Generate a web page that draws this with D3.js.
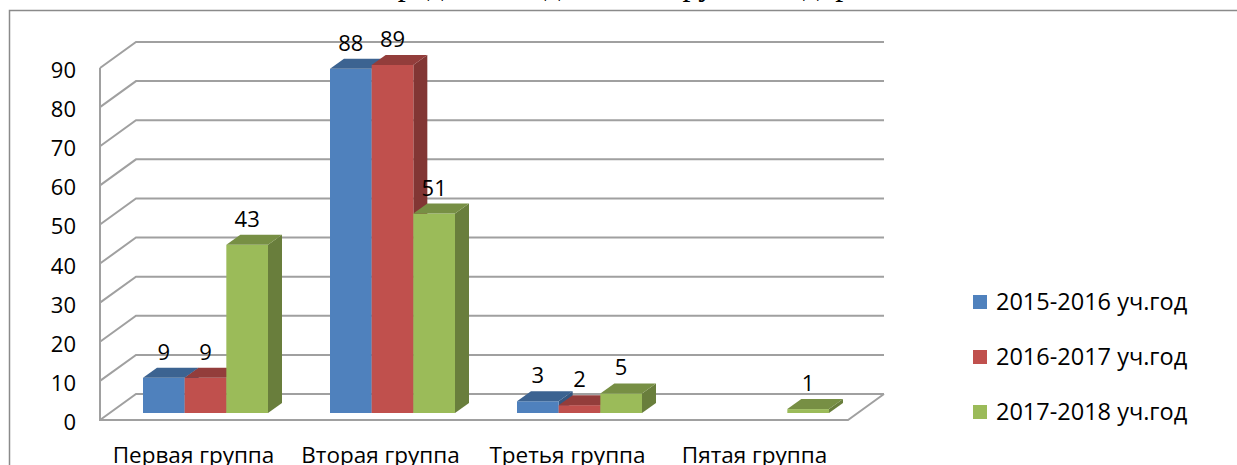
<!DOCTYPE html>
<html>
<head>
<meta charset="utf-8">
<script src="https://cdn.jsdelivr.net/npm/d3@7"></script>
<style>
  body { margin: 0; background: #fff; }
  text { font-family: "Open Sans", sans-serif; fill: #000; }
</style>
</head>
<body>
<div id="chart"></div>
<script>
// data
const categories = ["Первая группа", "Вторая группа", "Третья группа", "Пятая группа"];
const seriesNames = ["2015-2016 уч.год", "2016-2017 уч.год", "2017-2018 уч.год"];
const values2015 = [9, 88, 3, null];
const values2016 = [9, 89, 2, null];
const values2017 = [43, 51, 5, 1];
const yTicks = [0, 10, 20, 30, 40, 50, 60, 70, 80, 90];
const titleText = "Распределение детей по группам здоровья";

const colors = ["#4F81BD", "#C0504D", "#9BBB59"];

const width = 1237, height = 465;
// 3d offsets
const depth = { dx: 36, dy: -26 };
const barFront = { dx: 12, dy: -7 };
const barDepth = { dx: 14, dy: -10 };

const svg = d3.select("#chart")
  .append("svg")
  .attr("width", width)
  .attr("height", height);

// title (cut off at the top, only descenders show)
svg.append("text")
  .attr("x", 623)
  .attr("y", -5)
  .attr("text-anchor", "middle")
  .style("font-family", "'Liberation Serif', serif")
  .style("font-size", "32px")
  .text(titleText);

// chart border
svg.append("rect")
  .attr("x", 9.5).attr("y", 10.5)
  .attr("width", width + 20).attr("height", height + 20)
  .attr("fill", "none")
  .attr("stroke", "#8a8a8a")
  .attr("stroke-width", 1.5);

const x0 = d3.scaleBand()
  .domain(categories)
  .range([100, 848]);

const x1 = d3.scaleBand()
  .domain(seriesNames)
  .range([0, x0.bandwidth()])
  .paddingOuter(0.744);

const y = d3.scaleLinear()
  .domain([0, 90])
  .range([420, 68]);

// walls and grid
const grid = svg.append("g")
  .attr("fill", "none")
  .attr("stroke", "#a0a0a0")
  .attr("stroke-width", 2);

grid.selectAll("path.gl")
  .data(yTicks)
  .enter()
  .append("path")
  .attr("class", "gl")
  .attr("d", d => {
    const yy = y(d);
    return `M${x0.range()[0]},${yy} L${x0.range()[0] + depth.dx},${yy + depth.dy} L${x0.range()[1] + depth.dx},${yy + depth.dy}`;
  });

grid.append("path")
  .attr("d", `M${x0.range()[0]},${y(90)} L${x0.range()[0]},${y(0)} L${x0.range()[1]},${y(0)} L${x0.range()[1] + depth.dx},${y(0) + depth.dy}`);

// y axis labels
svg.append("g")
  .selectAll("text")
  .data(yTicks)
  .enter()
  .append("text")
  .attr("x", 76)
  .attr("y", d => y(d) + 10)
  .attr("text-anchor", "end")
  .style("font-size", "22px")
  .text(d => d);

// category labels
svg.append("g")
  .selectAll("text")
  .data(categories)
  .enter()
  .append("text")
  .attr("x", d => x0(d) + x0.bandwidth() / 2)
  .attr("y", 463)
  .attr("text-anchor", "middle")
  .style("font-size", "22.5px")
  .text(d => d);

// bars
const allValues = [values2015, values2016, values2017];
const bars = [];
categories.forEach((c, i) => {
  seriesNames.forEach((s, j) => {
    const v = allValues[j][i];
    if (v === null) return;
    bars.push({ cat: c, series: s, idx: j, value: v });
  });
});

const bw = x1.bandwidth();
const barG = svg.append("g")
  .selectAll("g")
  .data(bars)
  .enter()
  .append("g");

const fx = d => x0(d.cat) + x1(d.series) + barFront.dx;
const fTop = d => y(d.value) + barFront.dy;
const fBottom = () => y(0) + barFront.dy;

// side
barG.append("path")
  .attr("fill", d => d3.color(colors[d.idx]).darker(1.1))
  .attr("d", d => {
    const xr = fx(d) + bw;
    return `M${xr},${fTop(d)} L${xr + barDepth.dx},${fTop(d) + barDepth.dy} L${xr + barDepth.dx},${fBottom() + barDepth.dy} L${xr},${fBottom()} Z`;
  });

// front
barG.append("rect")
  .attr("x", d => fx(d))
  .attr("y", d => fTop(d))
  .attr("width", bw)
  .attr("height", d => fBottom() - fTop(d))
  .attr("fill", d => colors[d.idx]);

// top
barG.append("path")
  .attr("fill", d => d3.color(colors[d.idx]).darker(0.75))
  .attr("d", d => {
    const xl = fx(d), t = fTop(d);
    return `M${xl},${t} L${xl + bw},${t} L${xl + bw + barDepth.dx},${t + barDepth.dy} L${xl + barDepth.dx},${t + barDepth.dy} Z`;
  });

// data labels
svg.append("g")
  .selectAll("text")
  .data(bars)
  .enter()
  .append("text")
  .attr("x", d => fx(d) + bw / 2)
  .attr("y", d => fTop(d) + barDepth.dy - 8)
  .attr("text-anchor", "middle")
  .style("font-size", "22px")
  .text(d => d.value);

// legend
const legend = svg.append("g")
  .attr("transform", "translate(973,302)")
  .selectAll("g")
  .data(seriesNames)
  .enter()
  .append("g")
  .attr("transform", (d, i) => `translate(0,${i * 55})`);

legend.append("rect")
  .attr("x", 0)
  .attr("y", -7)
  .attr("width", 14)
  .attr("height", 14)
  .attr("fill", (d, i) => colors[i]);

legend.append("text")
  .attr("x", 23)
  .attr("y", 8)
  .style("font-size", "23.5px")
  .text(d => d);
</script>
</body>
</html>
